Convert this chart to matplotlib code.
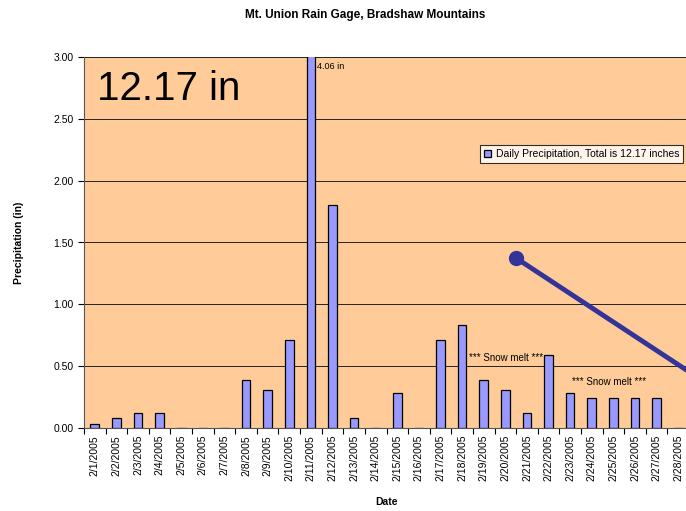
#!/usr/bin/env python3

import matplotlib.pyplot as plt
import numpy as np
from matplotlib.lines import Line2D

plt.rcParams['font.family'] = ['Liberation Sans', 'DejaVu Sans']

days = [f"2/{d}/2005" for d in range(1, 29)]
precip = [0.03, 0.08, 0.12, 0.12, 0.0, 0.0, 0.0, 0.39, 0.31, 0.71,
          4.06, 1.80, 0.08, 0.0, 0.28, 0.0, 0.71, 0.83, 0.39, 0.31,
          0.12, 0.59, 0.28, 0.24, 0.24, 0.24, 0.24, 0.0]
total = 12.17

W, H = 686, 511
fig = plt.figure(figsize=(W / 100, H / 100), dpi=100)
ax = fig.add_axes([84 / W, (H - 428) / H, 605 / W, 371 / H])
ax.set_facecolor("#FFCC99")

x = np.arange(len(days))
ax.bar(x, precip, width=0.4, color="#9999FF", edgecolor="black", linewidth=0.9,
       label=f"Daily Precipitation, Total is {total} inches", zorder=3)

ax.set_xlim(-0.5, len(days) - 0.5)
ax.set_ylim(0, 3.0)
ax.set_yticks(np.arange(0, 3.01, 0.5))
ax.set_yticklabels([f"{v:.2f}" for v in np.arange(0, 3.01, 0.5)], fontsize=7.5)
ax.yaxis.grid(True, color="#222222", linewidth=0.7, zorder=1)
ax.set_axisbelow(True)

# category boundaries get the tick marks, labels sit in the middle
ax.set_xticks(np.arange(-0.5, len(days), 1.0), minor=False)
ax.set_xticklabels([])
ax.set_xticks(x, minor=True)
ax.set_xticklabels(days, minor=True, rotation=90, fontsize=7.5)
ax.tick_params(axis="x", which="minor", length=0, pad=5)
ax.tick_params(axis="x", which="major", length=4, direction="out")
ax.tick_params(axis="y", length=4, direction="out")

for s in ["top", "right"]:
    ax.spines[s].set_visible(False)
ax.spines["left"].set_color("#555555")
ax.spines["bottom"].set_color("#555555")

ax.set_xlabel("Date", fontsize=7.5, fontweight="bold", labelpad=11)
ax.set_ylabel("Precipitation (in)", fontsize=7.5, fontweight="bold", labelpad=21)
fig.text(365 / W, 1 - 15 / H, "Mt. Union Rain Gage, Bradshaw Mountains",
         ha="center", va="center", fontsize=8.5, fontweight="bold")

ax.text(0.1, 2.74, f"{total} in", fontsize=29, va="center", ha="left")
ax.text(10.3, 2.92, "4.06 in", fontsize=6.5, va="center", ha="left")
ax.text(17.3, 0.57, "*** Snow melt ***", fontsize=7, va="center", ha="left")
ax.text(22.1, 0.37, "*** Snow melt ***", fontsize=7, va="center", ha="left")

leg = ax.legend(loc="upper left", bbox_to_anchor=(396 / 605, 1 - 88 / 371),
                fontsize=7.5, frameon=True, fancybox=False, borderpad=0.4,
                handlelength=0.7, handleheight=0.7, handletextpad=0.4,
                borderaxespad=0)
leg.get_frame().set_edgecolor("black")
leg.get_frame().set_linewidth(0.8)

# hand-drawn pointer line
fig.add_artist(Line2D([516 / W, 700 / W], [1 - 258 / H, 1 - 379 / H],
                      transform=fig.transFigure, color="#333399", linewidth=3.5,
                      solid_capstyle="butt"))
fig.add_artist(Line2D([516 / W], [1 - 258 / H], transform=fig.transFigure,
                      marker="o", markersize=10, color="#333399"))

fig.savefig("out.png", dpi=100)
